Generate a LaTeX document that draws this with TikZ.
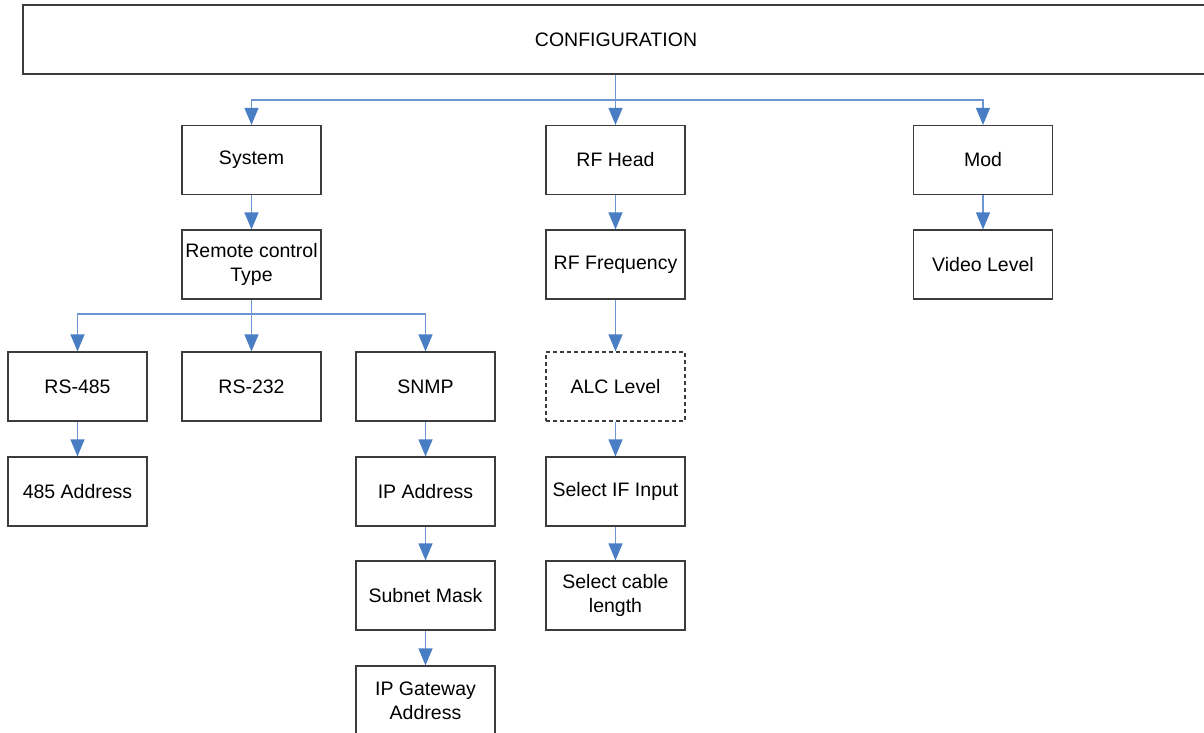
\documentclass[tikz,border=0pt]{standalone}
\usepackage{fontspec}
\setmainfont{Liberation Sans}
\usetikzlibrary{arrows.meta}
\definecolor{linkblue}{RGB}{74,126,196}
\definecolor{linelight}{RGB}{110,150,210}
\definecolor{boxedge}{RGB}{60,60,60}
\begin{document}
\begin{tikzpicture}[x=1pt,y=-1pt,
  box/.style={draw=boxedge, line width=1.2pt, minimum width=139pt, minimum height=69pt,
    inner sep=0pt, align=center, font=\fontsize{19.5}{24}\selectfont, text=black},
  dashedbox/.style={box, dash pattern=on 4pt off 3pt},
  conn/.style={draw=linelight, line width=1.2pt,
    -{Triangle[width=14pt,length=17pt,color=linkblue]}},
  bus/.style={draw=linelight, line width=1.2pt}]
\useasboundingbox (0,0) rectangle (1204,733);
\clip (0,0) rectangle (1204,733);

% root
\node[box, minimum width=1186pt] (cfg) at (616,39.5) {CONFIGURATION};

% first level
\node[box] (sys) at (251.5,160) {System};
\node[box] (rfh) at (615.5,160) {RF Head};
\node[box] (mod) at (983,160) {Mod};

% second level
\node[box] (rct) at (251.5,264.5) {Remote control\\Type};
\node[box] (rff) at (615.5,264.5) {RF Frequency};
\node[box] (vid) at (983,264.5) {Video Level};

% third level
\node[box] (r485) at (77.5,386.5) {RS-485};
\node[box] (r232) at (251.5,386.5) {RS-232};
\node[box] (snmp) at (425.5,386.5) {SNMP};
\node[dashedbox] (alc) at (615.5,386.5) {ALC Level};

% fourth level
\node[box] (a485) at (77.5,491.5) {485 Address};
\node[box] (ipa) at (425.5,491.5) {IP Address};
\node[box] (sif) at (615.5,491.5) {Select IF Input};

% fifth level
\node[box] (sub) at (425.5,595.5) {Subnet Mask};
\node[box] (cab) at (615.5,595.5) {Select cable\\length};

% sixth level
\node[box] (gw) at (425.5,700.5) {IP Gateway\\Address};

% connectors from the root
\coordinate (j1) at (615.5,100);
\draw[conn] (cfg.south -| rfh.north) -- (rfh.north);
\draw[conn] (j1) -| (sys.north);
\draw[conn] (j1) -| (mod.north);

% system branch
\draw[conn] (sys) -- (rct);
\coordinate (j2) at (251.5,314);
\draw[bus] (rct.south) -- (j2);
\draw[conn] (j2) -| (r485.north);
\draw[conn] (j2) -- (r232.north);
\draw[conn] (j2) -| (snmp.north);
\draw[conn] (r485) -- (a485);
\draw[conn] (snmp) -- (ipa);
\draw[conn] (ipa) -- (sub);
\draw[conn] (sub) -- (gw);

% rf head branch
\draw[conn] (rfh) -- (rff);
\draw[conn] (rff) -- (alc);
\draw[conn] (alc) -- (sif);
\draw[conn] (sif) -- (cab);

% mod branch
\draw[conn] (mod) -- (vid);
\end{tikzpicture}
\end{document}
